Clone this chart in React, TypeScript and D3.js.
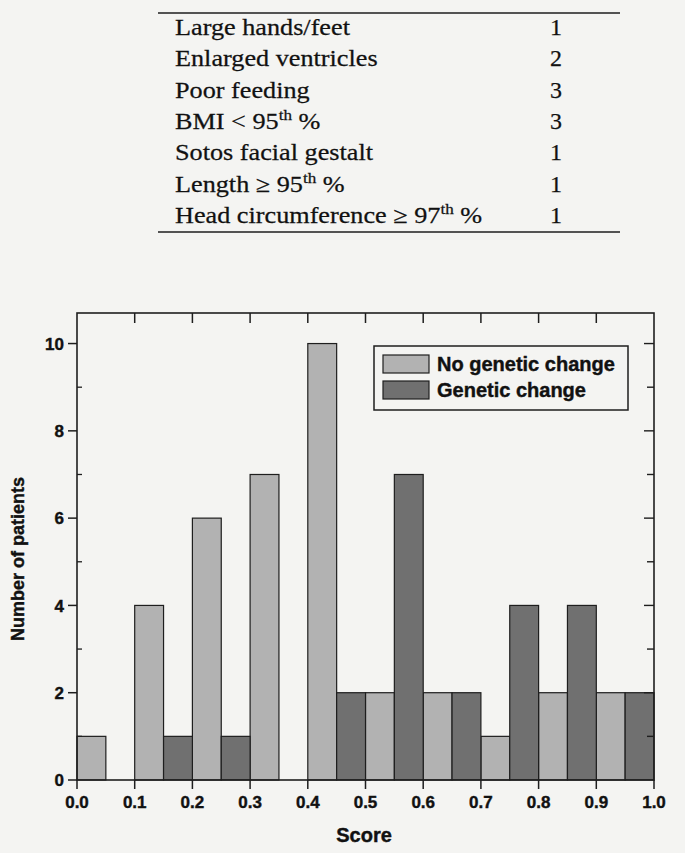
import React from "react";
import * as d3 from "d3";

// ---- Table data ----
const featureLabels = [
  ["Large hands/feet"],
  ["Enlarged ventricles"],
  ["Poor feeding"],
  ["BMI < 95", "th", " %"],
  ["Sotos facial gestalt"],
  ["Length ≥ 95", "th", " %"],
  ["Head circumference ≥ 97", "th", " %"],
];
const featureScores = [1, 2, 3, 3, 1, 1, 1];

// ---- Histogram data ----
const binWidth = 0.05;
const noGeneticBins = [0.0, 0.1, 0.2, 0.3, 0.4, 0.5, 0.6, 0.7, 0.8, 0.9];
const noGeneticCounts = [1, 4, 6, 7, 10, 2, 2, 1, 2, 2];
const geneticBins = [0.05, 0.15, 0.25, 0.35, 0.45, 0.55, 0.65, 0.75, 0.85, 0.95];
const geneticCounts = [0, 1, 1, 0, 2, 7, 2, 4, 4, 2];
const xTicks = [0, 0.1, 0.2, 0.3, 0.4, 0.5, 0.6, 0.7, 0.8, 0.9, 1.0];
const yMajorTicks = [0, 2, 4, 6, 8, 10];
const yMinorTicks = [1, 3, 5, 7, 9];
const seriesNames = ["No genetic change", "Genetic change"];

const LIGHT = "#b2b2b2";
const DARK = "#707070";
const INK = "#1e1e1e";
const TXT = "#111";
const BG = "#f4f4f2";
const SANS = "'Liberation Sans', Arial, sans-serif";
const SERIF = "'Liberation Serif', 'Times New Roman', serif";

export default function App() {
  const W = 685;
  const H = 853;
  const left = 77, right = 654, top = 313, bottom = 780;
  const x = d3.scaleLinear().domain([0, 1]).range([left, right]);
  const y = d3.scaleLinear().domain([0, 10.7]).range([bottom, top]);
  const fmt = d3.format(".1f");

  const bars = [
    ...noGeneticBins.map((b, i) => ({ b, v: noGeneticCounts[i], fill: LIGHT })),
    ...geneticBins.map((b, i) => ({ b, v: geneticCounts[i], fill: DARK })),
  ].filter((d) => d.v > 0);

  const rowY = (i: number) => 35 + i * 31.3;

  return (
    <svg
      width={W}
      height={H}
      style={{ position: "absolute", left: 0, top: 0, display: "block" }}
    >
      <rect x={0} y={0} width={W} height={H} fill={BG} />

      {/* Table */}
      <line x1={158} x2={620} y1={13} y2={13} stroke={INK} strokeWidth={1.5} />
      <line x1={158} x2={620} y1={232} y2={232} stroke={INK} strokeWidth={1.5} />
      {featureLabels.map((parts, i) => (
        <g key={i} transform={`translate(175,${rowY(i)}) scale(1.14,1)`}>
          <text x={0} y={0} fontFamily={SERIF} fontSize={23} fill={TXT} stroke={TXT} strokeWidth={0.25}>
            {parts[0]}
            {parts.length > 1 && (
              <tspan fontSize={15} dy={-9}>
                {parts[1]}
              </tspan>
            )}
            {parts.length > 2 && <tspan dy={9}>{parts[2]}</tspan>}
          </text>
        </g>
      ))}
      {featureScores.map((s, i) => (
        <text
          key={i}
          x={556}
          y={rowY(i)}
          textAnchor="middle"
          fontFamily={SERIF}
          fontSize={24}
          fill={TXT}
          stroke={TXT}
          strokeWidth={0.25}
        >
          {s}
        </text>
      ))}

      {/* Bars */}
      {bars.map((d, i) => (
        <rect
          key={i}
          x={x(d.b)}
          y={y(d.v)}
          width={x(d.b + binWidth) - x(d.b)}
          height={y(0) - y(d.v)}
          fill={d.fill}
          stroke={INK}
          strokeWidth={1.2}
        />
      ))}

      {/* Frame */}
      <rect
        x={left}
        y={top}
        width={right - left}
        height={bottom - top}
        fill="none"
        stroke={INK}
        strokeWidth={1.6}
      />

      {/* Bottom ticks and labels */}
      {xTicks.map((t, i) => (
        <g key={i}>
          <line x1={x(t)} x2={x(t)} y1={bottom} y2={bottom + 9} stroke={INK} strokeWidth={1.5} />
          <text
            x={x(t)}
            y={808}
            textAnchor="middle"
            fontFamily={SANS}
            fontWeight="bold"
            fontSize={17}
            fill={TXT}
            stroke={TXT}
            strokeWidth={0.4}
          >
            {fmt(t)}
          </text>
        </g>
      ))}
      {/* Top ticks */}
      {xTicks
        .filter((t) => t > 0 && t < 1)
        .map((t, i) => (
          <line key={i} x1={x(t)} x2={x(t)} y1={top} y2={top + 10} stroke={INK} strokeWidth={1.5} />
        ))}

      {/* Left ticks */}
      {yMajorTicks.map((t, i) => (
        <g key={i}>
          <line x1={left - 9} x2={left} y1={y(t)} y2={y(t)} stroke={INK} strokeWidth={1.5} />
          <text
            x={64}
            y={y(t)}
            dy="0.36em"
            textAnchor="end"
            fontFamily={SANS}
            fontWeight="bold"
            fontSize={17}
            fill={TXT}
            stroke={TXT}
            strokeWidth={0.4}
          >
            {t}
          </text>
        </g>
      ))}
      {yMinorTicks.map((t, i) => (
        <line key={i} x1={left} x2={left + 5} y1={y(t)} y2={y(t)} stroke={INK} strokeWidth={1.3} />
      ))}

      {/* Right ticks */}
      {[...yMajorTicks.filter((t) => t > 0), ...yMinorTicks].map((t, i) => (
        <line
          key={i}
          x1={right - (t % 2 === 0 ? 10 : 7)}
          x2={right}
          y1={y(t)}
          y2={y(t)}
          stroke={INK}
          strokeWidth={1.4}
        />
      ))}

      {/* Axis titles */}
      <text
        transform="translate(24,559) rotate(-90)"
        textAnchor="middle"
        fontFamily={SANS}
        fontWeight="bold"
        fontSize={18}
        fill={TXT}
        stroke={TXT}
        strokeWidth={0.4}
      >
        Number of patients
      </text>
      <text
        x={364}
        y={842}
        textAnchor="middle"
        fontFamily={SANS}
        fontWeight="bold"
        fontSize={20}
        fill={TXT}
        stroke={TXT}
        strokeWidth={0.4}
      >
        Score
      </text>

      {/* Legend */}
      <rect x={374} y={346} width={254} height={64} fill={BG} stroke={INK} strokeWidth={1.5} />
      {seriesNames.map((name, i) => (
        <g key={i}>
          <rect
            x={383}
            y={355 + i * 26}
            width={46}
            height={18}
            fill={i === 0 ? LIGHT : DARK}
            stroke={INK}
            strokeWidth={1.2}
          />
          <text
            x={437}
            y={371 + i * 26}
            fontFamily={SANS}
            fontWeight="bold"
            fontSize={20}
            fill={TXT}
            stroke={TXT}
            strokeWidth={0.4}
          >
            {name}
          </text>
        </g>
      ))}
    </svg>
  );
}
